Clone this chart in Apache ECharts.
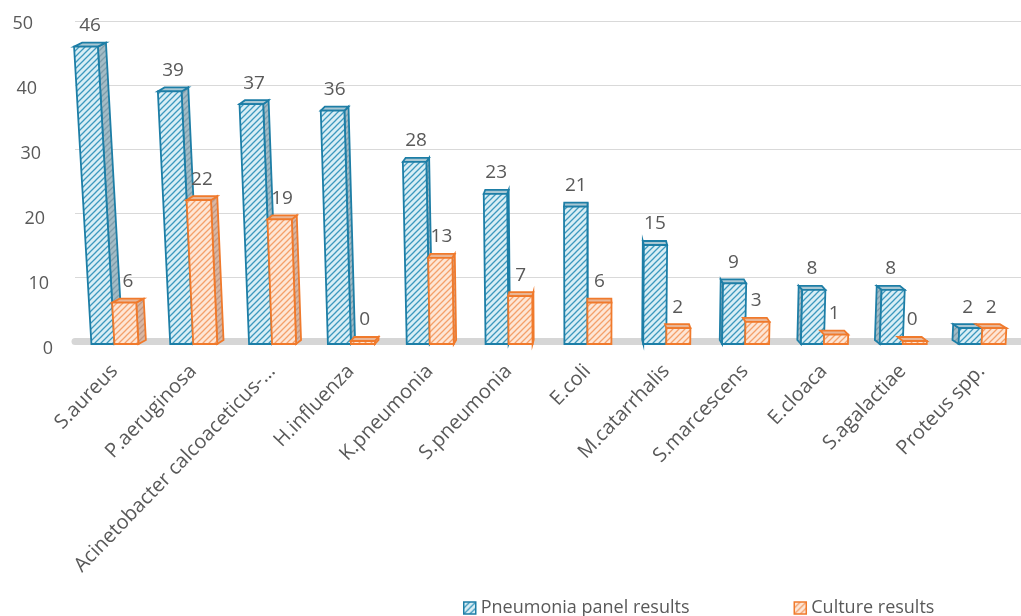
<!DOCTYPE html>
<html>
<head>
<meta charset="utf-8">
<script src="https://cdn.jsdelivr.net/npm/echarts@6/dist/echarts.min.js"></script>
<style>
html,body{margin:0;padding:0;background:#fff;}
#chart{width:1021px;height:616px;}
</style>
</head>
<body>
<div id="chart"></div>
<script>
const categories = ['S.aureus','P.aeruginosa','Acinetobacter calcoaceticus-...','H.influenza','K.pneumonia','S.pneumonia','E.coli','M.catarrhalis','S.marcescens','E.cloaca','S.agalactiae','Proteus spp.'];
const panelValues = [46,39,37,36,28,23,21,15,9,8,8,2];
const cultureValues = [6,22,19,0,13,7,6,2,3,1,0,2];
const yTicks = [0,10,20,30,40,50];
const seriesNames = ['Pneumonia panel results','Culture results'];

const FONT = '"Open Sans", "Noto Sans", sans-serif';
const TXT = '#595959';

function hatch(bg, fg) {
  const c = document.createElement('canvas');
  c.width = 6; c.height = 6;
  const g = c.getContext('2d');
  g.fillStyle = bg; g.fillRect(0,0,6,6);
  g.strokeStyle = fg; g.lineWidth = 1.3;
  g.beginPath();
  g.moveTo(-1,7); g.lineTo(7,-1);
  g.moveTo(-1,1); g.lineTo(1,-1);
  g.moveTo(5,7); g.lineTo(7,5);
  g.stroke();
  return c;
}
const styles = [
  {front:{image:hatch('#d9eef5','#3c98be'),repeat:'repeat'}, side:{image:hatch('#a3bcc6','#7d9dab'),repeat:'repeat'}, top:'#a9c7d3', stroke:'#1d7ea6', w:23, off:-23},
  {front:{image:hatch('#fde6d6','#f4a06a'),repeat:'repeat'}, side:{image:hatch('#d8b7a4','#c09682'),repeat:'repeat'}, top:'#e9b696', stroke:'#f07a2c', w:24, off:0}
];
const VX = 590;

function makeRender(k) {
  const st = styles[k];
  return function(params, api) {
    const i = api.value(0), v = api.value(1);
    const base = api.coord([i, 0]);
    const topP = api.coord([i, v]);
    const c = base[0];
    const xl = c + st.off, xr = xl + st.w;
    const y0 = base[1] + 3, y1 = topP[1];
    const h = y0 - y1;
    const s = 1 + 0.000117 * h;
    const xlt = VX + (xl - VX) * s, xrt = VX + (xr - VX) * s;
    const dx = (VX - (xlt + xrt) / 2) * 0.016, dy = -4;
    const children = [];
    const lw = 1.8;
    if (dx > 0) {
      children.push({type:'polygon', shape:{points:[[xr,y0],[xrt,y1],[xrt+dx,y1+dy],[xr+dx,y0+dy]]}, style:{fill:st.side, stroke:st.stroke, lineWidth:lw}});
    } else if (k === 0) {
      children.push({type:'polygon', shape:{points:[[xl,y0],[xlt,y1],[xlt+dx,y1+dy],[xl+dx,y0+dy]]}, style:{fill:st.side, stroke:st.stroke, lineWidth:lw}});
    }
    children.push({type:'polygon', shape:{points:[[xlt,y1],[xrt,y1],[xrt+dx,y1+dy],[xlt+dx,y1+dy]]}, style:{fill:st.top, stroke:st.stroke, lineWidth:lw}});
    children.push({type:'polygon', shape:{points:[[xl,y0],[xr,y0],[xrt,y1],[xlt,y1]]}, style:{fill:st.front, stroke:st.stroke, lineWidth:lw}});
    children.push({type:'text', style:{text:String(v), x:(xlt+xrt+dx)/2, y:y1-21, fill:TXT, fontSize:19, fontFamily:FONT, align:'center', verticalAlign:'middle'}});
    return {type:'group', children};
  };
}

const chart = echarts.init(document.getElementById('chart'), null, {renderer:'canvas'});
const option = {
  backgroundColor:'#fff',
  animation:false,
  grid:{left:75, top:21, width:954, height:320, containLabel:false},
  legend:{
    left:458, top:594, itemGap:104, itemWidth:12, itemHeight:12,
    textStyle:{color:TXT, fontSize:18, fontFamily:FONT},
    data:[
      {name:seriesNames[0], icon:'rect', itemStyle:{color:styles[0].front, borderColor:styles[0].stroke, borderWidth:1.5}},
      {name:seriesNames[1], icon:'rect', itemStyle:{color:styles[1].front, borderColor:styles[1].stroke, borderWidth:1.5}}
    ]
  },
  xAxis:{
    type:'category', data:categories, boundaryGap:true,
    axisLine:{show:true, lineStyle:{color:'#d6d6d6', width:7}},
    axisTick:{show:false},
    axisLabel:{rotate:46, margin:27, color:TXT, fontSize:20, fontFamily:FONT, interval:0}
  },
  yAxis:{
    type:'value', min:yTicks[0], max:yTicks[yTicks.length-1], interval:10,
    axisLine:{show:false}, axisTick:{show:false},
    splitLine:{lineStyle:{color:'#d9d9d9', width:1}},
    axisLabel:{
      margin:22, color:TXT, fontSize:18, fontFamily:FONT,
      formatter:function(v){ return '{t' + v + '|' + v + '}'; },
      rich:(function(){
        const r = {};
        yTicks.forEach(function(v){
          const d = 3 + (50 - v) / 50 * 5;
          r['t'+v] = {padding:[2*d, 0.4*v, 0, 0], color:TXT, fontSize:18, fontFamily:FONT};
        });
        return r;
      })()
    }
  },
  series:[
    {name:seriesNames[0], type:'custom', renderItem:makeRender(0), clip:false,
     itemStyle:{color:styles[0].front, borderColor:styles[0].stroke},
     encode:{x:0, y:1}, data:panelValues.map(function(v,i){return [i,v];})},
    {name:seriesNames[1], type:'custom', renderItem:makeRender(1), clip:false,
     itemStyle:{color:styles[1].front, borderColor:styles[1].stroke},
     encode:{x:0, y:1}, data:cultureValues.map(function(v,i){return [i,v];})}
  ]
};
chart.setOption(option);
</script>
</body>
</html>
